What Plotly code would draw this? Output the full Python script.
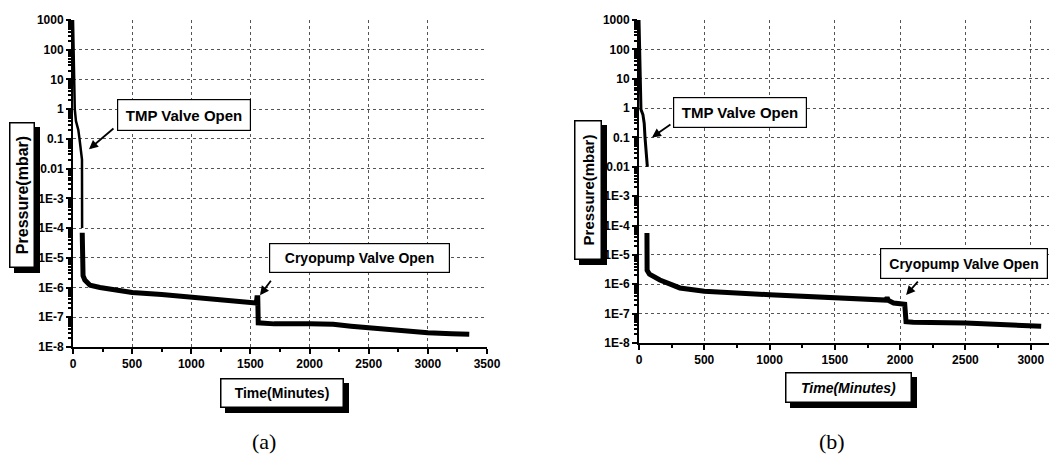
import math
import plotly.graph_objects as go

# ---------------- data (a) ----------------
t_a_early = [0, 2, 4, 6, 10, 15, 25, 45, 55, 65, 72, 76, 76, 77, 77]
p_a_early = [1000, 300, 50, 10, 3, 1, 0.4, 0.2, 0.1, 0.05, 0.03, 0.02, 0.01, 1e-3, 1e-4]
t_a = [78, 78, 80, 85, 100, 144, 228, 355, 500, 750, 1000, 1250, 1400, 1500, 1550,
       1555, 1562, 1566, 1700, 2000, 2200, 2350, 2500, 2600, 2800, 3000, 3200, 3350]
p_a = [7e-5, 2e-5, 5e-6, 2.5e-6, 1.8e-6, 1.2e-6, 1e-6, 8e-7, 6.8e-7, 5.8e-7, 4.8e-7, 3.8e-7, 3.3e-7, 3e-7, 3e-7,
       4.5e-7, 4.5e-7, 6.5e-8, 6e-8, 6e-8, 5.8e-8, 5e-8, 4.4e-8, 4.1e-8, 3.6e-8, 3e-8, 2.8e-8, 2.7e-8]

# ---------------- data (b) ----------------
t_b_early = [0, 2, 4, 6, 10, 15, 30, 40, 46, 55, 60, 64]
p_b_early = [1000, 300, 50, 10, 2, 0.9, 0.6, 0.3, 0.1, 0.04, 0.02, 0.01]
t_b = [61, 61, 62, 80, 160, 313, 500, 1000, 1500, 1800, 1890, 1900, 1910, 1950, 2035,
       2045, 2100, 2500, 2700, 2800, 3000, 3080]
p_b = [5.6e-5, 1e-5, 3e-6, 2.2e-6, 1.4e-6, 7.5e-7, 5.8e-7, 4.4e-7, 3.4e-7, 3e-7, 2.9e-7, 3.5e-7, 2.8e-7, 2.3e-7, 2.1e-7,
       5.3e-8, 5.1e-8, 4.8e-8, 4.4e-8, 4e-8, 3.6e-8, 3.7e-8]

# ---------------- tick labels ----------------
y_tickvals = [1e3, 1e2, 1e1, 1, 0.1, 0.01, 1e-3, 1e-4, 1e-5, 1e-6, 1e-7, 1e-8]
y_ticktext = ["1000", "100", "10", "1", "0.1", "0.01", "1E-3", "1E-4", "1E-5", "1E-6", "1E-7", "1E-8"]
y_minor = [k * 10.0 ** d for d in range(-8, 3) for k in range(2, 10)]
x_ticks_a = [0, 500, 1000, 1500, 2000, 2500, 3000, 3500]
x_ticks_b = [0, 500, 1000, 1500, 2000, 2500, 3000]

W, H = 1052, 465
def px(x): return x / W
def py(y): return 1 - y / H

fig = go.Figure()
fig.add_trace(go.Scatter(x=t_a_early, y=p_a_early, mode="lines", line=dict(color="black", width=2.5),
                         xaxis="x", yaxis="y", showlegend=False))
fig.add_trace(go.Scatter(x=t_a, y=p_a, mode="lines", line=dict(color="black", width=5),
                         xaxis="x", yaxis="y", showlegend=False))
fig.add_trace(go.Scatter(x=t_b_early, y=p_b_early, mode="lines", line=dict(color="black", width=3),
                         xaxis="x2", yaxis="y2", showlegend=False))
fig.add_trace(go.Scatter(x=t_b, y=p_b, mode="lines", line=dict(color="black", width=5),
                         xaxis="x2", yaxis="y2", showlegend=False))

tickfont = dict(family="Liberation Sans, Arial", size=12, color="black", weight="bold")
grid = dict(showgrid=True, gridcolor="#555", griddash="dot", gridwidth=1)
common_x = dict(showline=True, linecolor="black", linewidth=2, ticks="outside", ticklen=5, tickwidth=1.5,
                tickcolor="black", tickfont=tickfont, zeroline=False, automargin=False,
                minor=dict(dtick=250, tick0=0, ticks="outside", ticklen=3, tickcolor="black", showgrid=False),
                **grid)
common_y = dict(type="log", range=[-8, 3], tickmode="array", tickvals=y_tickvals, ticktext=y_ticktext,
                showline=True, linecolor="black", linewidth=2, ticks="outside", ticklen=5, tickwidth=1.5,
                tickcolor="black", tickfont=tickfont, zeroline=False, automargin=False,
                minor=dict(tickmode="array", tickvals=y_minor, ticks="outside", ticklen=3, tickcolor="black",
                           showgrid=False),
                **grid)

fig.update_layout(
    template="none",
    width=W, height=H, margin=dict(l=0, r=0, t=0, b=0, pad=0), autosize=False,
    paper_bgcolor="white", plot_bgcolor="white",
    xaxis=dict(domain=[px(73), px(487)], range=[0, 3500], tickmode="array", tickvals=x_ticks_a,
               anchor="y", **common_x),
    yaxis=dict(domain=[py(347), py(20)], anchor="x", **common_y),
    xaxis2=dict(domain=[px(639), px(1049)], range=[0, 3140], tickmode="array", tickvals=x_ticks_b,
                anchor="y2", **common_x),
    yaxis2=dict(domain=[py(343), py(20)], anchor="x2", **common_y),
)

shapes = []
annotations = []
lbl_font = dict(family="Liberation Sans, Arial", size=14, color="black", weight="bold")

def shadow_box(x0, y0, x1, y1, off=5):
    shapes.append(dict(type="rect", xref="paper", yref="paper",
                       x0=px(x0 + off), x1=px(x1 + off), y0=py(y1 + off), y1=py(y0 + off),
                       fillcolor="black", line=dict(width=0), layer="above"))

def text_box(text, x0, y0, x1, y1, angle=0, italic=False, bw=1.5, size=14):
    f = dict(lbl_font)
    f["size"] = size
    if italic:
        f["style"] = "italic"
    w, h = x1 - x0, y1 - y0
    if angle != 0:
        w, h = h, w
    annotations.append(dict(xref="paper", yref="paper", x=px((x0 + x1) / 2), y=py((y0 + y1) / 2),
                            xanchor="center", yanchor="middle", text=text, showarrow=False,
                            textangle=angle, font=f, bgcolor="white", bordercolor="black",
                            borderwidth=bw, borderpad=0, width=w - 2 * bw, height=h - 2 * bw))

# axis titles (boxed with shadow)
shadow_box(9, 122, 35, 268)
text_box("Pressure(mbar)", 9, 122, 35, 268, angle=-90, size=16)
shadow_box(220, 378, 344, 408)
text_box("Time(Minutes)", 220, 378, 344, 408, size=14)
shadow_box(574, 120, 602, 260)
text_box("Pressure(mbar)", 574, 120, 602, 260, angle=-90, size=15)
shadow_box(785, 372, 912, 403)
text_box("Time(Minutes)", 785, 372, 912, 403, italic=True, size=14)

# callouts
text_box("TMP Valve Open", 117, 99, 251, 131, bw=1.2, size=15)
text_box("Cryopump Valve Open", 269, 243, 450, 273, bw=1.2)
text_box("TMP Valve Open", 673, 97, 807, 128, bw=1.2, size=15)
text_box("Cryopump Valve Open", 880, 248, 1048, 279, bw=1.2)

def arrow(xa, ya, x, y, ax, ay):
    annotations.append(dict(xref=xa, yref=ya, x=x, y=y, ax=ax, ay=ay, axref="pixel", ayref="pixel",
                            text="", showarrow=True, arrowhead=2, arrowsize=1, arrowwidth=1.8,
                            arrowcolor="black"))

arrow("x", "y", 135, math.log10(0.045), 26, -22)
arrow("x", "y", 1581, math.log10(5.5e-7), 12, -16)
arrow("x2", "y2", 99, math.log10(0.10), 20, -14)
arrow("x2", "y2", 2046, math.log10(4.3e-7), 13, -15)

# captions
cap_font = dict(family="Liberation Serif, Times New Roman", size=22, color="black")
annotations.append(dict(xref="paper", yref="paper", x=px(264), y=py(441), text="(a)", showarrow=False,
                        font=cap_font, xanchor="center", yanchor="middle"))
annotations.append(dict(xref="paper", yref="paper", x=px(832), y=py(441), text="(b)", showarrow=False,
                        font=cap_font, xanchor="center", yanchor="middle"))

fig.update_layout(shapes=shapes, annotations=annotations)
fig.write_html("out.html", config={"displayModeBar": False},
               post_script="document.body.style.margin='0';document.body.style.padding='0';"
                           "document.body.style.overflow='hidden';")
